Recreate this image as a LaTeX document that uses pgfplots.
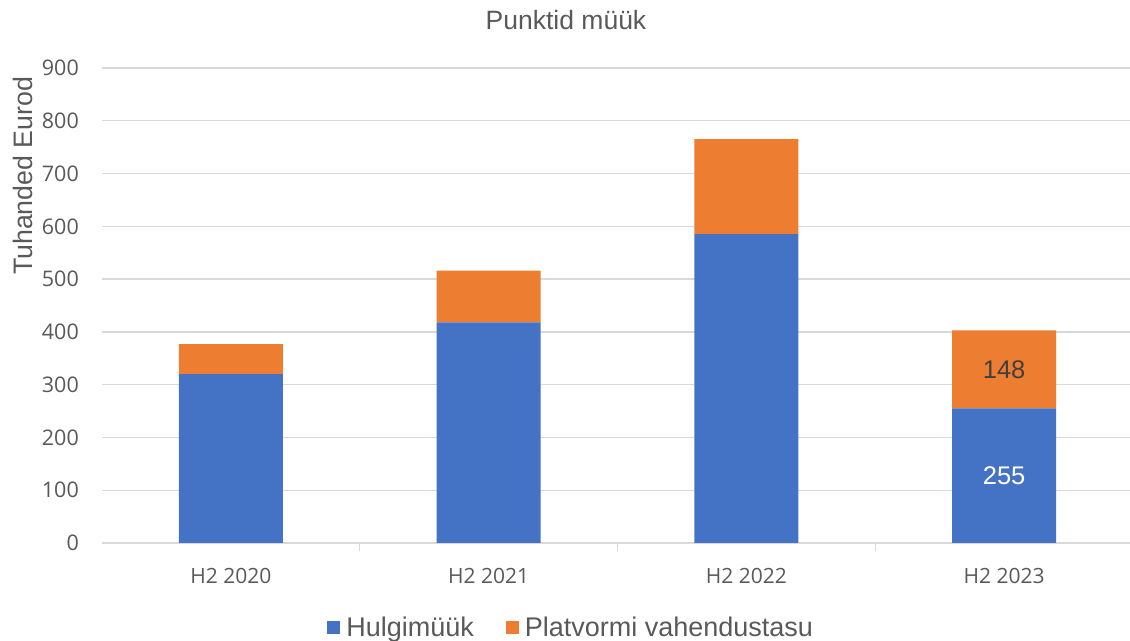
\documentclass[border=0pt]{standalone}
\usepackage{fontspec}
\setmainfont{Liberation Sans}
\newfontfamily\tickfont{Open Sans}
\usepackage{pgfplots}
\pgfplotsset{compat=1.18}
\definecolor{cblue}{HTML}{4472C4}
\definecolor{corange}{HTML}{ED7D31}
\definecolor{ctext}{HTML}{595959}
\definecolor{cgrid}{HTML}{D9D9D9}
\begin{document}
\begin{tikzpicture}
\useasboundingbox (0,0) rectangle (1130bp,641bp);
\begin{axis}[
  at={(102bp,98bp)}, anchor=south west,
  scale only axis, width=1031bp, height=475bp,
  ybar stacked, bar width=104bp,
  xmin=-0.5, xmax=3.5, ymin=0, ymax=900,
  xtick={0,1,2,3},
  xticklabels={H2 2020,H2 2021,H2 2022,H2 2023},
  ytick={0,100,...,900},
  extra x ticks={0.5,1.5,2.5},
  extra x tick labels={},
  extra x tick style={major tick length=8bp, tick style={draw=cgrid, line width=1.3bp}, tick pos=bottom, xtick align=outside, grid=none},
  major tick length=0pt,
  axis x line*=bottom, axis y line*=left,
  x axis line style={draw=cgrid, line width=1.3bp, -},
  y axis line style={draw=none},
  ymajorgrids, grid style={draw=cgrid, line width=1.3bp},
  /pgf/number format/assume math mode=true,
  yticklabel style={font=\tickfont\fontsize{21.5bp}{25bp}\selectfont, text=ctext, inner sep=0pt, anchor=east, xshift=-23bp},
  xticklabel style={font=\tickfont\fontsize{21bp}{25bp}\selectfont, text=ctext, inner sep=0pt, anchor=base, yshift=-40bp},
  legend style={at={(0.455,-0.177)}, anchor=center, draw=none, fill=none, legend columns=2,
    font=\fontsize{27bp}{31bp}\selectfont, text=ctext,
    /tikz/every even column/.append style={column sep=30bp}},
  legend image code/.code={\fill[#1] (0bp,-6.5bp) rectangle (13bp,6.5bp); \path (17bp,0bp);},
]
\addplot[fill=cblue, draw=none] coordinates {(0,320) (1,418) (2,585) (3,255)};
\addlegendentry{Hulgimüük}
\addplot[fill=corange, draw=none] coordinates {(0,57) (1,98) (2,180) (3,148)};
\addlegendentry{Platvormi vahendustasu}
\end{axis}
\begin{axis}[
  at={(102bp,98bp)}, anchor=south west,
  scale only axis, width=1031bp, height=475bp,
  xmin=-0.5, xmax=3.5, ymin=0, ymax=900,
  hide axis, clip=false,
  point meta=explicit symbolic,
  nodes near coords,
  every node near coord/.append style={anchor=center, font=\fontsize{25.5bp}{30bp}\selectfont},
]
\addplot[draw=none, mark=none, nodes near coords, every node near coord/.append style={text=white}]
  coordinates {(3,127.5)[255]};
\addplot[draw=none, mark=none, nodes near coords, every node near coord/.append style={text=black!75}]
  coordinates {(3,329)[148]};
\end{axis}
\node[anchor=base, text=ctext, font=\fontsize{26.5bp}{30bp}\selectfont] at (566bp,611bp) {Punktid müük};
\node[anchor=base, rotate=90, text=ctext, font=\fontsize{26.7bp}{30bp}\selectfont] at (32bp,465bp) {Tuhanded Eurod};
\end{tikzpicture}
\end{document}
